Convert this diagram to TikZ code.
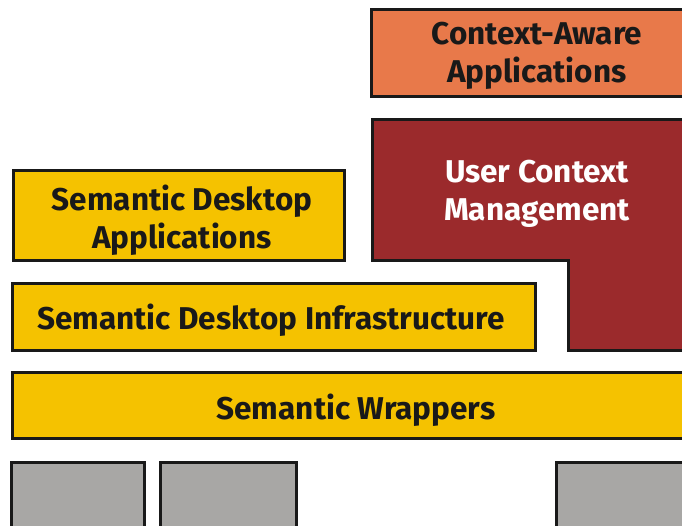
\documentclass[tikz,border=0pt]{standalone}
\usepackage{fontspec}
\setmainfont{Fira Sans}[UprightFont=* Bold]
\definecolor{ctxorange}{HTML}{E8794A}
\definecolor{ctxred}{HTML}{9B2A2C}
\definecolor{semyellow}{HTML}{F5C200}
\definecolor{basegray}{HTML}{A8A7A5}
\tikzset{
  layer/.style={draw=black!90, line width=3pt},
  layertext/.style={align=center, font=\fontsize{31.5}{38}\selectfont, text=black!90}
}

\begin{document}
\begin{tikzpicture}[x=1pt, y=-1pt]
  \useasboundingbox (0,0) rectangle (682,526);
  \clip (0,0) rectangle (682,526);
  % top right
  \path[layer, fill=ctxorange] (371,10) rectangle (700,97);
  \node[layertext] (ctxapps) at (537,56) {Context-Aware\\Applications};
  \path[layer, fill=ctxred] (372,120) -- (700,120) -- (700,350) -- (568,350)
     -- (568,261) -- (372,261) -- cycle;
  \node[layertext, text=white] (usrctx) at (537,194) {User Context\\Management};
  % semantic desktop
  \path[layer, fill=semyellow] (13,171) rectangle (344,261);
  \node[layertext] (sdapps) at (182,220) {Semantic Desktop\\Applications};
  \path[layer, fill=semyellow] (12,284) rectangle (535,350);
  \node[layertext] (sdinfra) at (271,320) {Semantic Desktop Infrastructure};
  \path[layer, fill=semyellow] (12,372) rectangle (700,438);
  \node[layertext] (wrappers) at (356,410) {Semantic Wrappers};
  % data sources
  \foreach \x/\w in {11/144, 160/296, 556/700}
  {
    \path[layer, fill=basegray] (\x,462) rectangle (\w,540);
  }
\end{tikzpicture}
\end{document}
